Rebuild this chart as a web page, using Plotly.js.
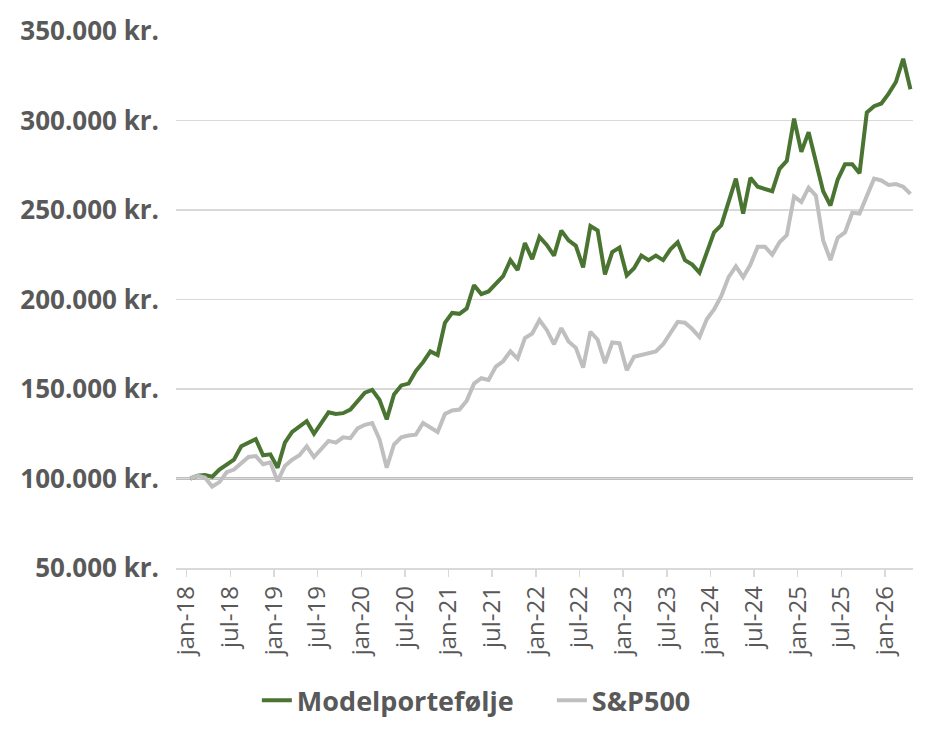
<!DOCTYPE html>
<html>
<head>
<meta charset="utf-8">
<script src="https://cdn.plot.ly/plotly-3.0.1.min.js"></script>
<style>html,body{margin:0;padding:0;background:#ffffff;}</style>
</head>
<body>
<div id="chart" style="width:937px;height:738px;"></div>
<script>
// x-axis tick labels (every 6 months, starting jan-18)
const tickLabels = ['jan-18','jul-18','jan-19','jul-19','jan-20','jul-20','jan-21','jul-21',
  'jan-22','jul-22','jan-23','jul-23','jan-24','jul-24','jan-25','jul-25','jan-26'];
const monthsPerTick = 6;

// y-axis ticks
const yTickValues = [50000, 100000, 150000, 200000, 250000, 300000, 350000];
const yTickLabels = ['50.000 kr.', '100.000 kr.', '150.000 kr.', '200.000 kr.', '250.000 kr.', '300.000 kr.', '350.000 kr.'];

// series names
const seriesNames = ['Modelportefølje', 'S&P500'];

// monthly values jan-18 .. apr-26 (kr.)
const modelportefolje = [
  100000, 101500, 102000, 101000, 105000, 108000, 110500, 118000, 120000, 122000,
  113000, 113500, 106000, 120000, 126000, 129000, 132000, 125000, 131000, 137000,
  136000, 136500, 138500, 143500, 148000, 149500, 144000, 133000, 147000, 152000,
  153000, 160000, 165000, 171000, 169000, 187000, 192500, 192000, 195000, 208000,
  203000, 204500, 208500, 213000, 222000, 216500, 231500, 222500, 235000, 230500,
  224500, 238500, 233000, 230000, 218000, 241000, 238500, 214000, 226500, 229000,
  213500, 217500, 224500, 222000, 224500, 222000, 228000, 232000, 222000, 219500,
  215000, 227000, 237500, 241500, 254000, 267500, 248000, 268000, 263000, 261500,
  260500, 273000, 277500, 301000, 282500, 293500, 277000, 260500, 252500, 267000,
  275500, 275500, 270500, 304500, 308000, 309500, 315000, 321500, 334500, 317500
];
const sp500 = [
  100000, 101500, 100500, 95500, 98000, 103500, 105000, 108500, 112000, 112500,
  108000, 109000, 98500, 107000, 110500, 113000, 118000, 112000, 116500, 121000,
  120000, 123000, 122500, 128000, 130000, 131000, 122000, 106000, 119000, 123000,
  124000, 124500, 131000, 128500, 126000, 136000, 138000, 138500, 143500, 153000,
  156000, 155000, 162500, 165500, 171000, 167000, 178500, 181000, 188500, 183000,
  175000, 184000, 176500, 173000, 162000, 182000, 177500, 164500, 176000, 175500,
  160500, 168000, 169000, 170500, 171000, 175000, 181500, 187500, 187000, 183500,
  179000, 189000, 194500, 202000, 212500, 218500, 212500, 219500, 229500, 229500,
  225000, 232000, 236000, 257500, 254500, 262500, 258000, 233000, 222000, 234500,
  237500, 248500, 248000, 257500, 267500, 266500, 264000, 264500, 263000, 259000
];
// starting capital (reference line)
const startCapital = 100000;

// each monthly point sits in the middle of its month slot
const monthPos = modelportefolje.map((_, i) => i + 0.5);
const tickPos = tickLabels.map((_, k) => k * monthsPerTick);

const textColor = '#595959';
const fontFamily = '"Open Sans", "Noto Sans", sans-serif';

const traces = [
  {
    x: monthPos, y: modelportefolje, name: seriesNames[0], type: 'scatter', mode: 'lines',
    line: {color: '#4a7431', width: 4}
  },
  {
    x: monthPos, y: sp500, name: seriesNames[1], type: 'scatter', mode: 'lines',
    line: {color: '#bfbfbf', width: 4}
  }
];

const layout = {
  width: 937, height: 738,
  margin: {l: 176, r: 24, t: 31, b: 170},
  paper_bgcolor: '#ffffff', plot_bgcolor: '#ffffff',
  showlegend: true,
  xaxis: {
    range: [-1.47, 99.85],
    tickvals: tickPos, ticktext: tickLabels,
    tickangle: -90,
    ticks: 'outside', ticklen: 7, tickcolor: '#d9d9d9', tickwidth: 1.5,
    showgrid: false, zeroline: false,
    showline: true, linecolor: '#d9d9d9', linewidth: 1.5,
    tickfont: {family: fontFamily, size: 24, color: textColor},
    fixedrange: true
  },
  yaxis: {
    range: [50000, 350000],
    tickvals: yTickValues, ticktext: yTickLabels,
    showgrid: true, gridcolor: '#d9d9d9', gridwidth: 1.5,
    zeroline: false, showline: false, ticks: '',
    ticklabelstandoff: 16,
    tickfont: {family: fontFamily, size: 26, color: textColor, weight: 700},
    fixedrange: true
  },
  shapes: [{
    type: 'line', xref: 'paper', x0: 0, x1: 1, yref: 'y', y0: startCapital, y1: startCapital,
    line: {color: '#7f7f7f', width: 2}, layer: 'between'
  }],
  legend: {
    orientation: 'h', x: 0.51, xanchor: 'center', y: -0.247, yanchor: 'middle',
    entrywidth: 250, entrywidthmode: 'pixels',
    font: {family: fontFamily, size: 27, color: textColor, weight: 700},
    bgcolor: 'rgba(0,0,0,0)'
  }
};

Plotly.newPlot('chart', traces, layout, {displayModeBar: false, staticPlot: true});
</script>
</body>
</html>
